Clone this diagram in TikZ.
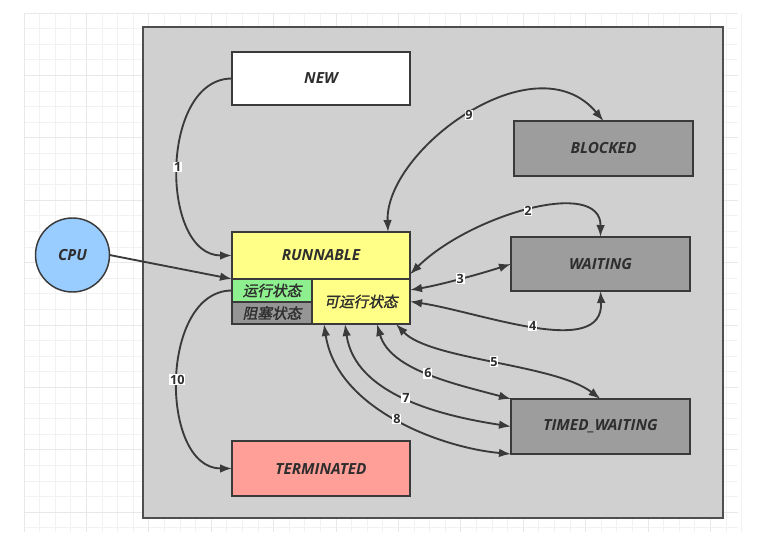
\documentclass[tikz,border=0pt]{standalone}
\usepackage{fontspec}
\setmainfont{Open Sans}
\newfontfamily\cjkfont[FakeSlant=0.2,FakeBold=1.5]{Noto Sans CJK SC}
\usetikzlibrary{arrows.meta,calc}
\definecolor{linec}{HTML}{3A3A3A}
\definecolor{txtc}{HTML}{2E2E2E}
\definecolor{panel}{HTML}{D0D0D0}
\definecolor{grayb}{HTML}{9D9D9D}
\definecolor{blkc}{HTML}{959595}
\definecolor{yel}{HTML}{FFFF88}
\definecolor{grn}{HTML}{8EEF8E}
\definecolor{salmon}{HTML}{FF9F97}
\definecolor{cpub}{HTML}{99CCFF}
\definecolor{gridminor}{HTML}{F2F2F2}
\definecolor{gridmajor}{HTML}{E8E8E8}
\tikzset{
  statebox/.style={draw=linec,line width=1.1pt,rectangle,inner sep=0pt,outer sep=0pt,
    text=txtc,font=\fontsize{11.5}{13}\selectfont\bfseries\itshape},
  cnbox/.style={statebox,font=\fontsize{11}{12}\selectfont\cjkfont},
  conn/.style={draw=linec,line width=1.4pt,-{Latex[length=9pt,width=6.5pt]}},
  bconn/.style={draw=linec,line width=1.4pt,{Latex[length=9pt,width=6.5pt]}-{Latex[length=9pt,width=6.5pt]}},
  numlab/.style={fill=white,inner sep=0.6pt,text=txtc,font=\fontsize{9.5}{10}\selectfont\bfseries}
}
\begin{document}
\begin{tikzpicture}[x=0.75pt,y=-0.75pt]
\useasboundingbox (0,0) rectangle (781,542);
% background grid
\foreach \i in {0,...,46} {
  \draw[gridminor,line width=0.6pt] ({24+15.6*\i},13) -- ({24+15.6*\i},532);
}
\foreach \j in {0,...,33} {
  \draw[gridminor,line width=0.6pt] (24,{13+15.6*\j}) -- (738,{13+15.6*\j});
}
\foreach \i in {0,...,11} {
  \draw[gridmajor,line width=0.7pt] ({24+62.4*\i},13) -- ({24+62.4*\i},532);
}
\foreach \j in {0,...,8} {
  \draw[gridmajor,line width=0.7pt] (24,{13+62.4*\j}) -- (738,{13+62.4*\j});
}
% panel
\draw[fill=panel,draw=linec!90,line width=1.3pt] (143,27) rectangle (723,518);
% states
\node[statebox,fill=white,minimum width=133.5pt,minimum height=39.75pt] (new) at (321,78.5) {NEW};
\node[statebox,fill=grayb,minimum width=134.25pt,minimum height=41.25pt] (blocked) at (603.5,148.5) {BLOCKED};
\node[statebox,fill=grayb,minimum width=134.25pt,minimum height=40.5pt] (waiting) at (600.5,264) {WAITING};
\node[statebox,fill=grayb,minimum width=134.25pt,minimum height=41.25pt] (tw) at (600.5,426.5) {TIMED\_WAITING};
\node[statebox,fill=salmon,minimum width=133.5pt,minimum height=41.25pt] (term) at (321,468.5) {TERMINATED};
\node[statebox,fill=yel,minimum width=133.5pt,minimum height=35.25pt] (run) at (321,255.5) {\raisebox{-3pt}{RUNNABLE}};
\node[cnbox,fill=grn,minimum width=60pt,minimum height=17.25pt] (green) at (272,290.5) {运行状态};
\node[cnbox,fill=blkc,minimum width=60pt,minimum height=16.5pt] (blk) at (272,313) {阻塞状态};
\node[cnbox,fill=yel,minimum width=73.5pt,minimum height=33.75pt] (ka) at (361,301.5) {可运行状态};
\node[statebox,circle,fill=cpub,minimum size=55.5pt] (cpu) at (72.5,255) {CPU};
% connectors
\draw[conn] (new.west) to[out=180,in=180,looseness=1.05] node[numlab,pos=0.5]{1} (run.west);
\draw[conn] (cpu.east) -- (run.south west);
\draw[conn] (green.west) to[out=180,in=180,looseness=1.05] node[numlab,pos=0.5]{10} (term.west);
\draw[bconn] ([xshift=50.25pt]run.north) .. controls (385,150) and (535,39) .. node[numlab,pos=0.5]{9} (blocked.north);
\draw[bconn] ([yshift=3.5pt]run.south east) .. controls (470,215) and (601,177) .. node[numlab,pos=0.5]{2} (waiting.north);
\draw[bconn] ([yshift=-8.25pt]ka.north east) .. controls (440,285) and (480,274) .. node[numlab,pos=0.5]{3} (waiting.west);
\draw[bconn] (ka.east) .. controls (480,312) and (604,360) .. node[numlab,pos=0.5]{4} (waiting.south);
\draw[bconn] ([xshift=-10.5pt]ka.south east) .. controls (430,360) and (555,364) .. node[numlab,pos=0.5]{5} (tw.north);
\draw[bconn] ([xshift=12pt]ka.south) .. controls (390,370) and (455,384) .. node[numlab,pos=0.5]{6} (tw.north west);
\draw[bconn] ([xshift=-12pt]ka.south) .. controls (355,395) and (442,416) .. node[numlab,pos=0.5]{7} (tw.west);
\draw[bconn] ([xshift=9pt]ka.south west) .. controls (337,410) and (443,448) .. node[numlab,pos=0.5]{8} (tw.south west);
\end{tikzpicture}
\end{document}
